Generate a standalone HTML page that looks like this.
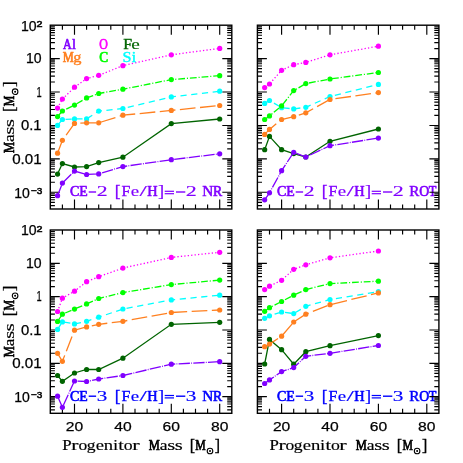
<!DOCTYPE html>
<html><head><meta charset="utf-8"><title>Yields</title>
<style>html,body{margin:0;padding:0;background:#fff;}svg{display:block;font-family:"Liberation Sans",sans-serif;}</style>
</head><body>
<svg style="will-change:transform" width="463" height="463" viewBox="0 0 463 463">
<rect width="463" height="463" fill="#ffffff"/>
<g font-family="Liberation Serif" font-size="14.3" fill="#8000ff" stroke="#8000ff" stroke-linejoin="round"><text stroke-width="0.64" transform="translate(69.92 196.4) scale(0.981 1)">C</text><text stroke-width="0.66" transform="translate(79.3 196.4) scale(0.971 1)">E</text><rect stroke="none" x="88.7" y="191.3" width="7.4" height="1.4"/><text stroke-width="0.15" transform="translate(96.84 196.4) scale(1.521 1)">2</text><text stroke-width="0.25" transform="translate(114.7 197.3) scale(1.224 1.24)">[</text><text stroke-width="0.41" transform="translate(121.55 196.4) scale(1.110 1)">F</text><text stroke-width="0.15" transform="translate(130.77 196.4) scale(1.323 1)">e</text><text stroke-width="0.15" transform="translate(139.5 196.4) scale(1.867 1)">/</text><text stroke-width="0.60" transform="translate(147.29 196.4) scale(1.000 1)">H</text><text stroke-width="0.18" transform="translate(157.94 197.3) scale(1.287 1.24)">]</text><rect stroke="none" x="164.7" y="190.7" width="9.3" height="1.2"/><rect stroke="none" x="164.7" y="193.1" width="9.3" height="1.2"/><rect stroke="none" x="176" y="191.3" width="9.3" height="1.4"/><text stroke-width="0.15" transform="translate(185.73 196.4) scale(1.538 1)">2</text><text stroke-width="0.47" transform="translate(202.26 196.4) scale(1.075 1)">N</text><text stroke-width="0.67" transform="translate(213.01 196.4) scale(0.966 1)">R</text></g>
<g font-family="Liberation Serif" font-size="14.3" fill="#8000ff" stroke="#8000ff" stroke-linejoin="round"><text stroke-width="0.64" transform="translate(276.92 196.4) scale(0.981 1)">C</text><text stroke-width="0.66" transform="translate(286.3 196.4) scale(0.971 1)">E</text><rect stroke="none" x="295.7" y="191.3" width="7.4" height="1.4"/><text stroke-width="0.15" transform="translate(303.84 196.4) scale(1.521 1)">2</text><text stroke-width="0.25" transform="translate(321.7 197.3) scale(1.224 1.24)">[</text><text stroke-width="0.41" transform="translate(328.55 196.4) scale(1.110 1)">F</text><text stroke-width="0.15" transform="translate(337.77 196.4) scale(1.323 1)">e</text><text stroke-width="0.15" transform="translate(346.5 196.4) scale(1.867 1)">/</text><text stroke-width="0.60" transform="translate(354.29 196.4) scale(1.000 1)">H</text><text stroke-width="0.18" transform="translate(364.94 197.3) scale(1.287 1.24)">]</text><rect stroke="none" x="371.7" y="190.7" width="9.3" height="1.2"/><rect stroke="none" x="371.7" y="193.1" width="9.3" height="1.2"/><rect stroke="none" x="383" y="191.3" width="9.3" height="1.4"/><text stroke-width="0.15" transform="translate(392.73 196.4) scale(1.538 1)">2</text><text stroke-width="0.48" transform="translate(409.17 196.4) scale(1.065 1)">R</text><text stroke-width="0.68" transform="translate(419.33 196.4) scale(0.962 1)">O</text><text stroke-width="0.70" transform="translate(428.87 196.4) scale(0.875 1)">T</text></g>
<g font-family="Liberation Serif" font-size="14.3" fill="#0000ff" stroke="#0000ff" stroke-linejoin="round"><text stroke-width="0.64" transform="translate(69.92 400.6) scale(0.981 1)">C</text><text stroke-width="0.66" transform="translate(79.3 400.6) scale(0.971 1)">E</text><rect stroke="none" x="88.7" y="395.5" width="7.4" height="1.4"/><text stroke-width="0.15" transform="translate(96.78 400.6) scale(1.474 1)">3</text><text stroke-width="0.25" transform="translate(114.7 401.5) scale(1.224 1.24)">[</text><text stroke-width="0.41" transform="translate(121.55 400.6) scale(1.110 1)">F</text><text stroke-width="0.15" transform="translate(130.77 400.6) scale(1.323 1)">e</text><text stroke-width="0.15" transform="translate(139.5 400.6) scale(1.867 1)">/</text><text stroke-width="0.60" transform="translate(147.29 400.6) scale(1.000 1)">H</text><text stroke-width="0.18" transform="translate(157.94 401.5) scale(1.287 1.24)">]</text><rect stroke="none" x="164.7" y="394.9" width="9.3" height="1.2"/><rect stroke="none" x="164.7" y="397.3" width="9.3" height="1.2"/><rect stroke="none" x="176" y="395.5" width="9.3" height="1.4"/><text stroke-width="0.15" transform="translate(185.66 400.6) scale(1.491 1)">3</text><text stroke-width="0.47" transform="translate(202.26 400.6) scale(1.075 1)">N</text><text stroke-width="0.67" transform="translate(213.01 400.6) scale(0.966 1)">R</text></g>
<g font-family="Liberation Serif" font-size="14.3" fill="#0000ff" stroke="#0000ff" stroke-linejoin="round"><text stroke-width="0.64" transform="translate(276.92 400.6) scale(0.981 1)">C</text><text stroke-width="0.66" transform="translate(286.3 400.6) scale(0.971 1)">E</text><rect stroke="none" x="295.7" y="395.5" width="7.4" height="1.4"/><text stroke-width="0.15" transform="translate(303.78 400.6) scale(1.474 1)">3</text><text stroke-width="0.25" transform="translate(321.7 401.5) scale(1.224 1.24)">[</text><text stroke-width="0.41" transform="translate(328.55 400.6) scale(1.110 1)">F</text><text stroke-width="0.15" transform="translate(337.77 400.6) scale(1.323 1)">e</text><text stroke-width="0.15" transform="translate(346.5 400.6) scale(1.867 1)">/</text><text stroke-width="0.60" transform="translate(354.29 400.6) scale(1.000 1)">H</text><text stroke-width="0.18" transform="translate(364.94 401.5) scale(1.287 1.24)">]</text><rect stroke="none" x="371.7" y="394.9" width="9.3" height="1.2"/><rect stroke="none" x="371.7" y="397.3" width="9.3" height="1.2"/><rect stroke="none" x="383" y="395.5" width="9.3" height="1.4"/><text stroke-width="0.15" transform="translate(392.66 400.6) scale(1.491 1)">3</text><text stroke-width="0.48" transform="translate(409.17 400.6) scale(1.065 1)">R</text><text stroke-width="0.68" transform="translate(419.33 400.6) scale(0.962 1)">O</text><text stroke-width="0.70" transform="translate(428.87 400.6) scale(0.875 1)">T</text></g>
<path d="M62.4 25.2v4.6M62.4 209v-4.6M74.5 25.2v9.5M74.5 209v-9.5M86.6 25.2v4.6M86.6 209v-4.6M98.7 25.2v4.6M98.7 209v-4.6M110.8 25.2v4.6M110.8 209v-4.6M122.9 25.2v9.5M122.9 209v-9.5M135 25.2v4.6M135 209v-4.6M147.1 25.2v4.6M147.1 209v-4.6M159.2 25.2v4.6M159.2 209v-4.6M171.3 25.2v9.5M171.3 209v-9.5M183.4 25.2v4.6M183.4 209v-4.6M195.5 25.2v4.6M195.5 209v-4.6M207.6 25.2v4.6M207.6 209v-4.6M219.7 25.2v9.5M219.7 209v-9.5M50.3 205.59h4.6M231.8 205.59h-4.6M50.3 202.35h4.6M231.8 202.35h-4.6M50.3 199.7h4.6M231.8 199.7h-4.6M50.3 197.47h4.6M231.8 197.47h-4.6M50.3 195.53h4.6M231.8 195.53h-4.6M50.3 193.82h4.6M231.8 193.82h-4.6M50.3 192.29h9.5M231.8 192.29h-9.5M50.3 182.23h4.6M231.8 182.23h-4.6M50.3 176.35h4.6M231.8 176.35h-4.6M50.3 172.17h4.6M231.8 172.17h-4.6M50.3 168.93h4.6M231.8 168.93h-4.6M50.3 166.29h4.6M231.8 166.29h-4.6M50.3 164.05h4.6M231.8 164.05h-4.6M50.3 162.11h4.6M231.8 162.11h-4.6M50.3 160.4h4.6M231.8 160.4h-4.6M50.3 158.87h9.5M231.8 158.87h-9.5M50.3 148.81h4.6M231.8 148.81h-4.6M50.3 142.93h4.6M231.8 142.93h-4.6M50.3 138.75h4.6M231.8 138.75h-4.6M50.3 135.51h4.6M231.8 135.51h-4.6M50.3 132.87h4.6M231.8 132.87h-4.6M50.3 130.63h4.6M231.8 130.63h-4.6M50.3 128.69h4.6M231.8 128.69h-4.6M50.3 126.98h4.6M231.8 126.98h-4.6M50.3 125.45h9.5M231.8 125.45h-9.5M50.3 115.39h4.6M231.8 115.39h-4.6M50.3 109.51h4.6M231.8 109.51h-4.6M50.3 105.33h4.6M231.8 105.33h-4.6M50.3 102.1h4.6M231.8 102.1h-4.6M50.3 99.45h4.6M231.8 99.45h-4.6M50.3 97.21h4.6M231.8 97.21h-4.6M50.3 95.27h4.6M231.8 95.27h-4.6M50.3 93.57h4.6M231.8 93.57h-4.6M50.3 92.04h9.5M231.8 92.04h-9.5M50.3 81.98h4.6M231.8 81.98h-4.6M50.3 76.09h4.6M231.8 76.09h-4.6M50.3 71.92h4.6M231.8 71.92h-4.6M50.3 68.68h4.6M231.8 68.68h-4.6M50.3 66.03h4.6M231.8 66.03h-4.6M50.3 63.79h4.6M231.8 63.79h-4.6M50.3 61.86h4.6M231.8 61.86h-4.6M50.3 60.15h4.6M231.8 60.15h-4.6M50.3 58.62h9.5M231.8 58.62h-9.5M50.3 48.56h4.6M231.8 48.56h-4.6M50.3 42.67h4.6M231.8 42.67h-4.6M50.3 38.5h4.6M231.8 38.5h-4.6M50.3 35.26h4.6M231.8 35.26h-4.6M50.3 32.61h4.6M231.8 32.61h-4.6M50.3 30.38h4.6M231.8 30.38h-4.6M50.3 28.44h4.6M231.8 28.44h-4.6M50.3 26.73h4.6M231.8 26.73h-4.6" stroke="#000" stroke-width="1.15" fill="none"/>
<rect x="50.3" y="25.2" width="181.5" height="183.8" fill="none" stroke="#000" stroke-width="1.4"/>
<polyline points="57.56,125.4 62.4,119.5 74.5,118.9 86.6,118.9 98.7,111.1 122.9,108.5 171.3,96.9 219.7,91.2" fill="none" stroke="#00ffff" stroke-width="1.3" stroke-dasharray="6.2 4.6"/>
<g fill="#00ffff"><circle cx="57.56" cy="125.4" r="2.6"/><circle cx="62.4" cy="119.5" r="2.6"/><circle cx="74.5" cy="118.9" r="2.6"/><circle cx="86.6" cy="118.9" r="2.6"/><circle cx="98.7" cy="111.1" r="2.6"/><circle cx="122.9" cy="108.5" r="2.6"/><circle cx="171.3" cy="96.9" r="2.6"/><circle cx="219.7" cy="91.2" r="2.6"/></g>
<polyline points="57.56,174.1 62.4,163.6 74.5,167 86.6,166.6 98.7,162.6 122.9,157.2 171.3,123.6 219.7,119" fill="none" stroke="#006400" stroke-width="1.3"/>
<g fill="#006400"><circle cx="57.56" cy="174.1" r="2.6"/><circle cx="62.4" cy="163.6" r="2.6"/><circle cx="74.5" cy="167" r="2.6"/><circle cx="86.6" cy="166.6" r="2.6"/><circle cx="98.7" cy="162.6" r="2.6"/><circle cx="122.9" cy="157.2" r="2.6"/><circle cx="171.3" cy="123.6" r="2.6"/><circle cx="219.7" cy="119" r="2.6"/></g>
<polyline points="57.56,116.6 62.4,111 74.5,105.1 86.6,97.9 98.7,93.5 122.9,89.2 171.3,79.6 219.7,75.7" fill="none" stroke="#00ff00" stroke-width="1.3" stroke-dasharray="6.8 1.9 1.1 1.9"/>
<g fill="#00ff00"><circle cx="57.56" cy="116.6" r="2.6"/><circle cx="62.4" cy="111" r="2.6"/><circle cx="74.5" cy="105.1" r="2.6"/><circle cx="86.6" cy="97.9" r="2.6"/><circle cx="98.7" cy="93.5" r="2.6"/><circle cx="122.9" cy="89.2" r="2.6"/><circle cx="171.3" cy="79.6" r="2.6"/><circle cx="219.7" cy="75.7" r="2.6"/></g>
<polyline points="57.56,108.1 62.4,99.1 74.5,87.2 86.6,78.6 98.7,75.3 122.9,65.7 171.3,54.8 219.7,48.4" fill="none" stroke="#ff00ff" stroke-width="1.3" stroke-dasharray="1.3 2.15"/>
<g fill="#ff00ff"><circle cx="57.56" cy="108.1" r="2.6"/><circle cx="62.4" cy="99.1" r="2.6"/><circle cx="74.5" cy="87.2" r="2.6"/><circle cx="86.6" cy="78.6" r="2.6"/><circle cx="98.7" cy="75.3" r="2.6"/><circle cx="122.9" cy="65.7" r="2.6"/><circle cx="171.3" cy="54.8" r="2.6"/><circle cx="219.7" cy="48.4" r="2.6"/></g>
<polyline points="57.56,153.2 62.4,140.3 74.5,123.4 86.6,122.8 98.7,122.8 122.9,115.2 171.3,110.4 219.7,105.5" fill="none" stroke="#ff8020" stroke-width="1.3" stroke-dasharray="15.7 4.5"/>
<g fill="#ff8020"><circle cx="57.56" cy="153.2" r="2.6"/><circle cx="62.4" cy="140.3" r="2.6"/><circle cx="74.5" cy="123.4" r="2.6"/><circle cx="86.6" cy="122.8" r="2.6"/><circle cx="98.7" cy="122.8" r="2.6"/><circle cx="122.9" cy="115.2" r="2.6"/><circle cx="171.3" cy="110.4" r="2.6"/><circle cx="219.7" cy="105.5" r="2.6"/></g>
<polyline points="57.56,195.7 62.4,183.1 74.5,171.1 86.6,174.5 98.7,173.9 122.9,166.6 171.3,159.7 219.7,153.8" fill="none" stroke="#8000ff" stroke-width="1.3" stroke-dasharray="11.3 1.25 0.9 1.25"/>
<g fill="#8000ff"><circle cx="57.56" cy="195.7" r="2.6"/><circle cx="62.4" cy="183.1" r="2.6"/><circle cx="74.5" cy="171.1" r="2.6"/><circle cx="86.6" cy="174.5" r="2.6"/><circle cx="98.7" cy="173.9" r="2.6"/><circle cx="122.9" cy="166.6" r="2.6"/><circle cx="171.3" cy="159.7" r="2.6"/><circle cx="219.7" cy="153.8" r="2.6"/></g>
<text x="26" y="63.32" font-family="Liberation Sans" stroke="#000" stroke-width="0.25" font-size="13.8" textLength="15.6" lengthAdjust="spacingAndGlyphs">10</text>
<text x="36.4" y="96.74" font-family="Liberation Sans" stroke="#000" stroke-width="0.25" font-size="13.8" textLength="5.2" lengthAdjust="spacingAndGlyphs">1</text>
<text x="21" y="130.15" font-family="Liberation Sans" stroke="#000" stroke-width="0.25" font-size="13.8" textLength="20.6" lengthAdjust="spacingAndGlyphs">0.1</text>
<text x="12.2" y="163.57" font-family="Liberation Sans" stroke="#000" stroke-width="0.25" font-size="13.8" textLength="29.4" lengthAdjust="spacingAndGlyphs">0.01</text>
<text x="21" y="30.5" font-family="Liberation Sans" stroke="#000" stroke-width="0.25" font-size="13.8" textLength="15.6" lengthAdjust="spacingAndGlyphs">10</text>
<text x="36.4" y="26.8" font-family="Liberation Sans" stroke="#000" stroke-width="0.25" font-size="9.4" textLength="6" lengthAdjust="spacingAndGlyphs" style="stroke-width:0.5">2</text>
<text x="14.2" y="197.59" font-family="Liberation Sans" stroke="#000" stroke-width="0.25" font-size="13.8" textLength="15.6" lengthAdjust="spacingAndGlyphs">10</text>
<text x="30.9" y="193.89" font-family="Liberation Sans" stroke="#000" stroke-width="0.25" font-size="9.4" textLength="11.4" lengthAdjust="spacingAndGlyphs" style="stroke-width:0.5">−3</text>
<g transform="translate(13.6 301.65) rotate(-90)">
<g font-family="Liberation Serif" font-size="14.3" fill="#000" stroke="#000" stroke-linejoin="round"><text stroke-width="0.70" transform="translate(148.64 0) scale(0.875 1)">M</text><text stroke-width="0.17" transform="translate(159.68 0) scale(1.224 1)">a</text><text stroke-width="0.15" transform="translate(167.15 0) scale(1.437 1)">s</text><text stroke-width="0.15" transform="translate(174.65 0) scale(1.437 1)">s</text><text stroke-width="0.29" transform="translate(189.7 0.9) scale(1.130 1.24)">[</text><text stroke-width="0.70" transform="translate(195.36 0) scale(0.824 1)">M</text><text stroke-width="0.21" transform="translate(214.59 0.9) scale(1.192 1.24)">]</text></g>
<circle cx="210" cy="1.5" r="2.8" fill="none" stroke="#000" stroke-width="1.1"/><circle cx="210" cy="1.5" r="1" fill="#000"/>
</g>
<path d="M269.5 25.2v4.6M269.5 209v-4.6M281.6 25.2v9.5M281.6 209v-9.5M293.7 25.2v4.6M293.7 209v-4.6M305.8 25.2v4.6M305.8 209v-4.6M317.9 25.2v4.6M317.9 209v-4.6M330 25.2v9.5M330 209v-9.5M342.1 25.2v4.6M342.1 209v-4.6M354.2 25.2v4.6M354.2 209v-4.6M366.3 25.2v4.6M366.3 209v-4.6M378.4 25.2v9.5M378.4 209v-9.5M390.5 25.2v4.6M390.5 209v-4.6M402.6 25.2v4.6M402.6 209v-4.6M414.7 25.2v4.6M414.7 209v-4.6M426.8 25.2v9.5M426.8 209v-9.5M257.4 205.59h4.6M438.9 205.59h-4.6M257.4 202.35h4.6M438.9 202.35h-4.6M257.4 199.7h4.6M438.9 199.7h-4.6M257.4 197.47h4.6M438.9 197.47h-4.6M257.4 195.53h4.6M438.9 195.53h-4.6M257.4 193.82h4.6M438.9 193.82h-4.6M257.4 192.29h9.5M438.9 192.29h-9.5M257.4 182.23h4.6M438.9 182.23h-4.6M257.4 176.35h4.6M438.9 176.35h-4.6M257.4 172.17h4.6M438.9 172.17h-4.6M257.4 168.93h4.6M438.9 168.93h-4.6M257.4 166.29h4.6M438.9 166.29h-4.6M257.4 164.05h4.6M438.9 164.05h-4.6M257.4 162.11h4.6M438.9 162.11h-4.6M257.4 160.4h4.6M438.9 160.4h-4.6M257.4 158.87h9.5M438.9 158.87h-9.5M257.4 148.81h4.6M438.9 148.81h-4.6M257.4 142.93h4.6M438.9 142.93h-4.6M257.4 138.75h4.6M438.9 138.75h-4.6M257.4 135.51h4.6M438.9 135.51h-4.6M257.4 132.87h4.6M438.9 132.87h-4.6M257.4 130.63h4.6M438.9 130.63h-4.6M257.4 128.69h4.6M438.9 128.69h-4.6M257.4 126.98h4.6M438.9 126.98h-4.6M257.4 125.45h9.5M438.9 125.45h-9.5M257.4 115.39h4.6M438.9 115.39h-4.6M257.4 109.51h4.6M438.9 109.51h-4.6M257.4 105.33h4.6M438.9 105.33h-4.6M257.4 102.1h4.6M438.9 102.1h-4.6M257.4 99.45h4.6M438.9 99.45h-4.6M257.4 97.21h4.6M438.9 97.21h-4.6M257.4 95.27h4.6M438.9 95.27h-4.6M257.4 93.57h4.6M438.9 93.57h-4.6M257.4 92.04h9.5M438.9 92.04h-9.5M257.4 81.98h4.6M438.9 81.98h-4.6M257.4 76.09h4.6M438.9 76.09h-4.6M257.4 71.92h4.6M438.9 71.92h-4.6M257.4 68.68h4.6M438.9 68.68h-4.6M257.4 66.03h4.6M438.9 66.03h-4.6M257.4 63.79h4.6M438.9 63.79h-4.6M257.4 61.86h4.6M438.9 61.86h-4.6M257.4 60.15h4.6M438.9 60.15h-4.6M257.4 58.62h9.5M438.9 58.62h-9.5M257.4 48.56h4.6M438.9 48.56h-4.6M257.4 42.67h4.6M438.9 42.67h-4.6M257.4 38.5h4.6M438.9 38.5h-4.6M257.4 35.26h4.6M438.9 35.26h-4.6M257.4 32.61h4.6M438.9 32.61h-4.6M257.4 30.38h4.6M438.9 30.38h-4.6M257.4 28.44h4.6M438.9 28.44h-4.6M257.4 26.73h4.6M438.9 26.73h-4.6" stroke="#000" stroke-width="1.15" fill="none"/>
<rect x="257.4" y="25.2" width="181.5" height="183.8" fill="none" stroke="#000" stroke-width="1.4"/>
<polyline points="264.66,103.4 269.5,100.5 281.6,107.7 293.7,108.9 305.8,107.3 330,96.5 378.4,84.4" fill="none" stroke="#00ffff" stroke-width="1.3" stroke-dasharray="6.2 4.6"/>
<g fill="#00ffff"><circle cx="264.66" cy="103.4" r="2.6"/><circle cx="269.5" cy="100.5" r="2.6"/><circle cx="281.6" cy="107.7" r="2.6"/><circle cx="293.7" cy="108.9" r="2.6"/><circle cx="305.8" cy="107.3" r="2.6"/><circle cx="330" cy="96.5" r="2.6"/><circle cx="378.4" cy="84.4" r="2.6"/></g>
<polyline points="264.66,149.7 269.5,136.4 281.6,149.7 293.7,153.6 305.8,157 330,141.3 378.4,129" fill="none" stroke="#006400" stroke-width="1.3"/>
<g fill="#006400"><circle cx="264.66" cy="149.7" r="2.6"/><circle cx="269.5" cy="136.4" r="2.6"/><circle cx="281.6" cy="149.7" r="2.6"/><circle cx="293.7" cy="153.6" r="2.6"/><circle cx="305.8" cy="157" r="2.6"/><circle cx="330" cy="141.3" r="2.6"/><circle cx="378.4" cy="129" r="2.6"/></g>
<polyline points="264.66,119.5 269.5,115.9 281.6,105.9 293.7,90.6 305.8,83.6 330,79 378.4,72.5" fill="none" stroke="#00ff00" stroke-width="1.3" stroke-dasharray="6.8 1.9 1.1 1.9"/>
<g fill="#00ff00"><circle cx="264.66" cy="119.5" r="2.6"/><circle cx="269.5" cy="115.9" r="2.6"/><circle cx="281.6" cy="105.9" r="2.6"/><circle cx="293.7" cy="90.6" r="2.6"/><circle cx="305.8" cy="83.6" r="2.6"/><circle cx="330" cy="79" r="2.6"/><circle cx="378.4" cy="72.5" r="2.6"/></g>
<polyline points="264.66,87.6 269.5,84 281.6,70.3 293.7,64.7 305.8,62.4 330,54.8 378.4,46.2" fill="none" stroke="#ff00ff" stroke-width="1.3" stroke-dasharray="1.3 2.15"/>
<g fill="#ff00ff"><circle cx="264.66" cy="87.6" r="2.6"/><circle cx="269.5" cy="84" r="2.6"/><circle cx="281.6" cy="70.3" r="2.6"/><circle cx="293.7" cy="64.7" r="2.6"/><circle cx="305.8" cy="62.4" r="2.6"/><circle cx="330" cy="54.8" r="2.6"/><circle cx="378.4" cy="46.2" r="2.6"/></g>
<polyline points="264.66,134.4 269.5,129.4 281.6,119.5 293.7,116.7 305.8,112.8 330,99.5 378.4,92.6" fill="none" stroke="#ff8020" stroke-width="1.3" stroke-dasharray="15.7 4.5"/>
<g fill="#ff8020"><circle cx="264.66" cy="134.4" r="2.6"/><circle cx="269.5" cy="129.4" r="2.6"/><circle cx="281.6" cy="119.5" r="2.6"/><circle cx="293.7" cy="116.7" r="2.6"/><circle cx="305.8" cy="112.8" r="2.6"/><circle cx="330" cy="99.5" r="2.6"/><circle cx="378.4" cy="92.6" r="2.6"/></g>
<polyline points="264.66,199.8 269.5,192.8 281.6,170.7 293.7,152.3 305.8,157 330,145.7 378.4,138.1" fill="none" stroke="#8000ff" stroke-width="1.3" stroke-dasharray="11.3 1.25 0.9 1.25"/>
<g fill="#8000ff"><circle cx="264.66" cy="199.8" r="2.6"/><circle cx="269.5" cy="192.8" r="2.6"/><circle cx="281.6" cy="170.7" r="2.6"/><circle cx="293.7" cy="152.3" r="2.6"/><circle cx="305.8" cy="157" r="2.6"/><circle cx="330" cy="145.7" r="2.6"/><circle cx="378.4" cy="138.1" r="2.6"/></g>
<path d="M62.4 230v4.6M62.4 413.3v-4.6M74.5 230v9.5M74.5 413.3v-9.5M86.6 230v4.6M86.6 413.3v-4.6M98.7 230v4.6M98.7 413.3v-4.6M110.8 230v4.6M110.8 413.3v-4.6M122.9 230v9.5M122.9 413.3v-9.5M135 230v4.6M135 413.3v-4.6M147.1 230v4.6M147.1 413.3v-4.6M159.2 230v4.6M159.2 413.3v-4.6M171.3 230v9.5M171.3 413.3v-9.5M183.4 230v4.6M183.4 413.3v-4.6M195.5 230v4.6M195.5 413.3v-4.6M207.6 230v4.6M207.6 413.3v-4.6M219.7 230v9.5M219.7 413.3v-9.5M50.3 409.9h4.6M231.8 409.9h-4.6M50.3 406.67h4.6M231.8 406.67h-4.6M50.3 404.03h4.6M231.8 404.03h-4.6M50.3 401.8h4.6M231.8 401.8h-4.6M50.3 399.87h4.6M231.8 399.87h-4.6M50.3 398.16h4.6M231.8 398.16h-4.6M50.3 396.64h9.5M231.8 396.64h-9.5M50.3 386.6h4.6M231.8 386.6h-4.6M50.3 380.74h4.6M231.8 380.74h-4.6M50.3 376.57h4.6M231.8 376.57h-4.6M50.3 373.34h4.6M231.8 373.34h-4.6M50.3 370.7h4.6M231.8 370.7h-4.6M50.3 368.47h4.6M231.8 368.47h-4.6M50.3 366.54h4.6M231.8 366.54h-4.6M50.3 364.83h4.6M231.8 364.83h-4.6M50.3 363.31h9.5M231.8 363.31h-9.5M50.3 353.28h4.6M231.8 353.28h-4.6M50.3 347.41h4.6M231.8 347.41h-4.6M50.3 343.24h4.6M231.8 343.24h-4.6M50.3 340.01h4.6M231.8 340.01h-4.6M50.3 337.38h4.6M231.8 337.38h-4.6M50.3 335.14h4.6M231.8 335.14h-4.6M50.3 333.21h4.6M231.8 333.21h-4.6M50.3 331.51h4.6M231.8 331.51h-4.6M50.3 329.98h9.5M231.8 329.98h-9.5M50.3 319.95h4.6M231.8 319.95h-4.6M50.3 314.08h4.6M231.8 314.08h-4.6M50.3 309.92h4.6M231.8 309.92h-4.6M50.3 306.69h4.6M231.8 306.69h-4.6M50.3 304.05h4.6M231.8 304.05h-4.6M50.3 301.82h4.6M231.8 301.82h-4.6M50.3 299.88h4.6M231.8 299.88h-4.6M50.3 298.18h4.6M231.8 298.18h-4.6M50.3 296.65h9.5M231.8 296.65h-9.5M50.3 286.62h4.6M231.8 286.62h-4.6M50.3 280.75h4.6M231.8 280.75h-4.6M50.3 276.59h4.6M231.8 276.59h-4.6M50.3 273.36h4.6M231.8 273.36h-4.6M50.3 270.72h4.6M231.8 270.72h-4.6M50.3 268.49h4.6M231.8 268.49h-4.6M50.3 266.56h4.6M231.8 266.56h-4.6M50.3 264.85h4.6M231.8 264.85h-4.6M50.3 263.33h9.5M231.8 263.33h-9.5M50.3 253.29h4.6M231.8 253.29h-4.6M50.3 247.43h4.6M231.8 247.43h-4.6M50.3 243.26h4.6M231.8 243.26h-4.6M50.3 240.03h4.6M231.8 240.03h-4.6M50.3 237.39h4.6M231.8 237.39h-4.6M50.3 235.16h4.6M231.8 235.16h-4.6M50.3 233.23h4.6M231.8 233.23h-4.6M50.3 231.52h4.6M231.8 231.52h-4.6" stroke="#000" stroke-width="1.15" fill="none"/>
<rect x="50.3" y="230" width="181.5" height="183.3" fill="none" stroke="#000" stroke-width="1.4"/>
<polyline points="57.56,329.4 62.4,321.9 74.5,323.9 86.6,321.3 98.7,317.2 122.9,309 171.3,299.9 219.7,295.2" fill="none" stroke="#00ffff" stroke-width="1.3" stroke-dasharray="6.2 4.6"/>
<g fill="#00ffff"><circle cx="57.56" cy="329.4" r="2.6"/><circle cx="62.4" cy="321.9" r="2.6"/><circle cx="74.5" cy="323.9" r="2.6"/><circle cx="86.6" cy="321.3" r="2.6"/><circle cx="98.7" cy="317.2" r="2.6"/><circle cx="122.9" cy="309" r="2.6"/><circle cx="171.3" cy="299.9" r="2.6"/><circle cx="219.7" cy="295.2" r="2.6"/></g>
<polyline points="57.56,375.5 62.4,381.3 74.5,373 86.6,369.5 98.7,369.5 122.9,358.2 171.3,324.3 219.7,322.3" fill="none" stroke="#006400" stroke-width="1.3"/>
<g fill="#006400"><circle cx="57.56" cy="375.5" r="2.6"/><circle cx="62.4" cy="381.3" r="2.6"/><circle cx="74.5" cy="373" r="2.6"/><circle cx="86.6" cy="369.5" r="2.6"/><circle cx="98.7" cy="369.5" r="2.6"/><circle cx="122.9" cy="358.2" r="2.6"/><circle cx="171.3" cy="324.3" r="2.6"/><circle cx="219.7" cy="322.3" r="2.6"/></g>
<polyline points="57.56,321.4 62.4,314.2 74.5,309.1 86.6,303.9 98.7,298.5 122.9,292.6 171.3,284.6 219.7,280.1" fill="none" stroke="#00ff00" stroke-width="1.3" stroke-dasharray="6.8 1.9 1.1 1.9"/>
<g fill="#00ff00"><circle cx="57.56" cy="321.4" r="2.6"/><circle cx="62.4" cy="314.2" r="2.6"/><circle cx="74.5" cy="309.1" r="2.6"/><circle cx="86.6" cy="303.9" r="2.6"/><circle cx="98.7" cy="298.5" r="2.6"/><circle cx="122.9" cy="292.6" r="2.6"/><circle cx="171.3" cy="284.6" r="2.6"/><circle cx="219.7" cy="280.1" r="2.6"/></g>
<polyline points="57.56,311.5 62.4,298.2 74.5,291.2 86.6,281.7 98.7,276.7 122.9,268.1 171.3,257.4 219.7,252.3" fill="none" stroke="#ff00ff" stroke-width="1.3" stroke-dasharray="1.3 2.15"/>
<g fill="#ff00ff"><circle cx="57.56" cy="311.5" r="2.6"/><circle cx="62.4" cy="298.2" r="2.6"/><circle cx="74.5" cy="291.2" r="2.6"/><circle cx="86.6" cy="281.7" r="2.6"/><circle cx="98.7" cy="276.7" r="2.6"/><circle cx="122.9" cy="268.1" r="2.6"/><circle cx="171.3" cy="257.4" r="2.6"/><circle cx="219.7" cy="252.3" r="2.6"/></g>
<polyline points="57.56,353.3 62.4,361.3 74.5,330.2 86.6,326.9 98.7,324.3 122.9,321.3 171.3,312.5 219.7,310" fill="none" stroke="#ff8020" stroke-width="1.3" stroke-dasharray="15.7 4.5"/>
<g fill="#ff8020"><circle cx="57.56" cy="353.3" r="2.6"/><circle cx="62.4" cy="361.3" r="2.6"/><circle cx="74.5" cy="330.2" r="2.6"/><circle cx="86.6" cy="326.9" r="2.6"/><circle cx="98.7" cy="324.3" r="2.6"/><circle cx="122.9" cy="321.3" r="2.6"/><circle cx="171.3" cy="312.5" r="2.6"/><circle cx="219.7" cy="310" r="2.6"/></g>
<polyline points="57.56,396.2 62.4,407.3 74.5,381 86.6,381.5 98.7,379 122.9,375.5 171.3,364.2 219.7,361.7" fill="none" stroke="#8000ff" stroke-width="1.3" stroke-dasharray="11.3 1.25 0.9 1.25"/>
<g fill="#8000ff"><circle cx="57.56" cy="396.2" r="2.6"/><circle cx="62.4" cy="407.3" r="2.6"/><circle cx="74.5" cy="381" r="2.6"/><circle cx="86.6" cy="381.5" r="2.6"/><circle cx="98.7" cy="379" r="2.6"/><circle cx="122.9" cy="375.5" r="2.6"/><circle cx="171.3" cy="364.2" r="2.6"/><circle cx="219.7" cy="361.7" r="2.6"/></g>
<text x="74.5" y="430.6" text-anchor="middle" font-family="Liberation Sans" stroke="#000" stroke-width="0.25" font-size="13.7" textLength="17.4" lengthAdjust="spacingAndGlyphs">20</text>
<text x="122.9" y="430.6" text-anchor="middle" font-family="Liberation Sans" stroke="#000" stroke-width="0.25" font-size="13.7" textLength="17.4" lengthAdjust="spacingAndGlyphs">40</text>
<text x="171.3" y="430.6" text-anchor="middle" font-family="Liberation Sans" stroke="#000" stroke-width="0.25" font-size="13.7" textLength="17.4" lengthAdjust="spacingAndGlyphs">60</text>
<text x="219.7" y="430.6" text-anchor="middle" font-family="Liberation Sans" stroke="#000" stroke-width="0.25" font-size="13.7" textLength="17.4" lengthAdjust="spacingAndGlyphs">80</text>
<g font-family="Liberation Serif" font-size="14.3" fill="#000" stroke="#000" stroke-linejoin="round"><text stroke-width="0.23" transform="translate(62.32 450.1) scale(1.177 1)">P</text><text stroke-width="0.15" transform="translate(71.37 450.1) scale(1.517 1)">r</text><text stroke-width="0.17" transform="translate(78.42 450.1) scale(1.224 1)">o</text><text stroke-width="0.17" transform="translate(86.65 450.1) scale(1.228 1)">g</text><text stroke-width="0.15" transform="translate(95.68 450.1) scale(1.304 1)">e</text><text stroke-width="0.15" transform="translate(103.87 450.1) scale(1.303 1)">n</text><text stroke-width="0.23" transform="translate(113.24 450.1) scale(1.180 1)">i</text><text stroke-width="0.15" transform="translate(118.3 450.1) scale(1.391 1)">t</text><text stroke-width="0.15" transform="translate(123.82 450.1) scale(1.240 1)">o</text><text stroke-width="0.15" transform="translate(132.15 450.1) scale(1.563 1)">r</text><text stroke-width="0.70" transform="translate(148.64 450.1) scale(0.875 1)">M</text><text stroke-width="0.17" transform="translate(159.68 450.1) scale(1.224 1)">a</text><text stroke-width="0.15" transform="translate(167.15 450.1) scale(1.437 1)">s</text><text stroke-width="0.15" transform="translate(174.65 450.1) scale(1.437 1)">s</text><text stroke-width="0.29" transform="translate(189.7 451) scale(1.130 1.24)">[</text><text stroke-width="0.70" transform="translate(195.36 450.1) scale(0.824 1)">M</text><text stroke-width="0.21" transform="translate(214.59 451) scale(1.192 1.24)">]</text></g>
<circle cx="210" cy="451" r="2.8" fill="none" stroke="#000" stroke-width="1.1"/><circle cx="210" cy="451" r="1" fill="#000"/>
<text x="26" y="268.03" font-family="Liberation Sans" stroke="#000" stroke-width="0.25" font-size="13.8" textLength="15.6" lengthAdjust="spacingAndGlyphs">10</text>
<text x="36.4" y="301.35" font-family="Liberation Sans" stroke="#000" stroke-width="0.25" font-size="13.8" textLength="5.2" lengthAdjust="spacingAndGlyphs">1</text>
<text x="21" y="334.68" font-family="Liberation Sans" stroke="#000" stroke-width="0.25" font-size="13.8" textLength="20.6" lengthAdjust="spacingAndGlyphs">0.1</text>
<text x="12.2" y="368.01" font-family="Liberation Sans" stroke="#000" stroke-width="0.25" font-size="13.8" textLength="29.4" lengthAdjust="spacingAndGlyphs">0.01</text>
<text x="21" y="235.3" font-family="Liberation Sans" stroke="#000" stroke-width="0.25" font-size="13.8" textLength="15.6" lengthAdjust="spacingAndGlyphs">10</text>
<text x="36.4" y="231.6" font-family="Liberation Sans" stroke="#000" stroke-width="0.25" font-size="9.4" textLength="6" lengthAdjust="spacingAndGlyphs" style="stroke-width:0.5">2</text>
<text x="14.2" y="401.94" font-family="Liberation Sans" stroke="#000" stroke-width="0.25" font-size="13.8" textLength="15.6" lengthAdjust="spacingAndGlyphs">10</text>
<text x="30.9" y="398.24" font-family="Liberation Sans" stroke="#000" stroke-width="0.25" font-size="9.4" textLength="11.4" lengthAdjust="spacingAndGlyphs" style="stroke-width:0.5">−3</text>
<g transform="translate(13.6 505.85) rotate(-90)">
<g font-family="Liberation Serif" font-size="14.3" fill="#000" stroke="#000" stroke-linejoin="round"><text stroke-width="0.70" transform="translate(148.64 0) scale(0.875 1)">M</text><text stroke-width="0.17" transform="translate(159.68 0) scale(1.224 1)">a</text><text stroke-width="0.15" transform="translate(167.15 0) scale(1.437 1)">s</text><text stroke-width="0.15" transform="translate(174.65 0) scale(1.437 1)">s</text><text stroke-width="0.29" transform="translate(189.7 0.9) scale(1.130 1.24)">[</text><text stroke-width="0.70" transform="translate(195.36 0) scale(0.824 1)">M</text><text stroke-width="0.21" transform="translate(214.59 0.9) scale(1.192 1.24)">]</text></g>
<circle cx="210" cy="1.5" r="2.8" fill="none" stroke="#000" stroke-width="1.1"/><circle cx="210" cy="1.5" r="1" fill="#000"/>
</g>
<path d="M269.5 230v4.6M269.5 413.3v-4.6M281.6 230v9.5M281.6 413.3v-9.5M293.7 230v4.6M293.7 413.3v-4.6M305.8 230v4.6M305.8 413.3v-4.6M317.9 230v4.6M317.9 413.3v-4.6M330 230v9.5M330 413.3v-9.5M342.1 230v4.6M342.1 413.3v-4.6M354.2 230v4.6M354.2 413.3v-4.6M366.3 230v4.6M366.3 413.3v-4.6M378.4 230v9.5M378.4 413.3v-9.5M390.5 230v4.6M390.5 413.3v-4.6M402.6 230v4.6M402.6 413.3v-4.6M414.7 230v4.6M414.7 413.3v-4.6M426.8 230v9.5M426.8 413.3v-9.5M257.4 409.9h4.6M438.9 409.9h-4.6M257.4 406.67h4.6M438.9 406.67h-4.6M257.4 404.03h4.6M438.9 404.03h-4.6M257.4 401.8h4.6M438.9 401.8h-4.6M257.4 399.87h4.6M438.9 399.87h-4.6M257.4 398.16h4.6M438.9 398.16h-4.6M257.4 396.64h9.5M438.9 396.64h-9.5M257.4 386.6h4.6M438.9 386.6h-4.6M257.4 380.74h4.6M438.9 380.74h-4.6M257.4 376.57h4.6M438.9 376.57h-4.6M257.4 373.34h4.6M438.9 373.34h-4.6M257.4 370.7h4.6M438.9 370.7h-4.6M257.4 368.47h4.6M438.9 368.47h-4.6M257.4 366.54h4.6M438.9 366.54h-4.6M257.4 364.83h4.6M438.9 364.83h-4.6M257.4 363.31h9.5M438.9 363.31h-9.5M257.4 353.28h4.6M438.9 353.28h-4.6M257.4 347.41h4.6M438.9 347.41h-4.6M257.4 343.24h4.6M438.9 343.24h-4.6M257.4 340.01h4.6M438.9 340.01h-4.6M257.4 337.38h4.6M438.9 337.38h-4.6M257.4 335.14h4.6M438.9 335.14h-4.6M257.4 333.21h4.6M438.9 333.21h-4.6M257.4 331.51h4.6M438.9 331.51h-4.6M257.4 329.98h9.5M438.9 329.98h-9.5M257.4 319.95h4.6M438.9 319.95h-4.6M257.4 314.08h4.6M438.9 314.08h-4.6M257.4 309.92h4.6M438.9 309.92h-4.6M257.4 306.69h4.6M438.9 306.69h-4.6M257.4 304.05h4.6M438.9 304.05h-4.6M257.4 301.82h4.6M438.9 301.82h-4.6M257.4 299.88h4.6M438.9 299.88h-4.6M257.4 298.18h4.6M438.9 298.18h-4.6M257.4 296.65h9.5M438.9 296.65h-9.5M257.4 286.62h4.6M438.9 286.62h-4.6M257.4 280.75h4.6M438.9 280.75h-4.6M257.4 276.59h4.6M438.9 276.59h-4.6M257.4 273.36h4.6M438.9 273.36h-4.6M257.4 270.72h4.6M438.9 270.72h-4.6M257.4 268.49h4.6M438.9 268.49h-4.6M257.4 266.56h4.6M438.9 266.56h-4.6M257.4 264.85h4.6M438.9 264.85h-4.6M257.4 263.33h9.5M438.9 263.33h-9.5M257.4 253.29h4.6M438.9 253.29h-4.6M257.4 247.43h4.6M438.9 247.43h-4.6M257.4 243.26h4.6M438.9 243.26h-4.6M257.4 240.03h4.6M438.9 240.03h-4.6M257.4 237.39h4.6M438.9 237.39h-4.6M257.4 235.16h4.6M438.9 235.16h-4.6M257.4 233.23h4.6M438.9 233.23h-4.6M257.4 231.52h4.6M438.9 231.52h-4.6" stroke="#000" stroke-width="1.15" fill="none"/>
<rect x="257.4" y="230" width="181.5" height="183.3" fill="none" stroke="#000" stroke-width="1.4"/>
<polyline points="264.66,318.3 269.5,315.8 281.6,312 293.7,313.6 305.8,306.3 330,299.5 378.4,291.6" fill="none" stroke="#00ffff" stroke-width="1.3" stroke-dasharray="6.2 4.6"/>
<g fill="#00ffff"><circle cx="264.66" cy="318.3" r="2.6"/><circle cx="269.5" cy="315.8" r="2.6"/><circle cx="281.6" cy="312" r="2.6"/><circle cx="293.7" cy="313.6" r="2.6"/><circle cx="305.8" cy="306.3" r="2.6"/><circle cx="330" cy="299.5" r="2.6"/><circle cx="378.4" cy="291.6" r="2.6"/></g>
<polyline points="264.66,364 269.5,339.4 281.6,349.7 293.7,364.2 305.8,351.7 330,345.7 378.4,335.6" fill="none" stroke="#006400" stroke-width="1.3"/>
<g fill="#006400"><circle cx="264.66" cy="364" r="2.6"/><circle cx="269.5" cy="339.4" r="2.6"/><circle cx="281.6" cy="349.7" r="2.6"/><circle cx="293.7" cy="364.2" r="2.6"/><circle cx="305.8" cy="351.7" r="2.6"/><circle cx="330" cy="345.7" r="2.6"/><circle cx="378.4" cy="335.6" r="2.6"/></g>
<polyline points="264.66,311.3 269.5,307.7 281.6,301.5 293.7,295.2 305.8,289.6 330,283.6 378.4,281.2" fill="none" stroke="#00ff00" stroke-width="1.3" stroke-dasharray="6.8 1.9 1.1 1.9"/>
<g fill="#00ff00"><circle cx="264.66" cy="311.3" r="2.6"/><circle cx="269.5" cy="307.7" r="2.6"/><circle cx="281.6" cy="301.5" r="2.6"/><circle cx="293.7" cy="295.2" r="2.6"/><circle cx="305.8" cy="289.6" r="2.6"/><circle cx="330" cy="283.6" r="2.6"/><circle cx="378.4" cy="281.2" r="2.6"/></g>
<polyline points="264.66,289.6 269.5,286.2 281.6,280.3 293.7,269.3 305.8,264.8 330,257.8 378.4,251" fill="none" stroke="#ff00ff" stroke-width="1.3" stroke-dasharray="1.3 2.15"/>
<g fill="#ff00ff"><circle cx="264.66" cy="289.6" r="2.6"/><circle cx="269.5" cy="286.2" r="2.6"/><circle cx="281.6" cy="280.3" r="2.6"/><circle cx="293.7" cy="269.3" r="2.6"/><circle cx="305.8" cy="264.8" r="2.6"/><circle cx="330" cy="257.8" r="2.6"/><circle cx="378.4" cy="251" r="2.6"/></g>
<polyline points="264.66,346.7 269.5,344.1 281.6,336.2 293.7,322 305.8,314.2 330,304.7 378.4,292.9" fill="none" stroke="#ff8020" stroke-width="1.3" stroke-dasharray="15.7 4.5"/>
<g fill="#ff8020"><circle cx="264.66" cy="346.7" r="2.6"/><circle cx="269.5" cy="344.1" r="2.6"/><circle cx="281.6" cy="336.2" r="2.6"/><circle cx="293.7" cy="322" r="2.6"/><circle cx="305.8" cy="314.2" r="2.6"/><circle cx="330" cy="304.7" r="2.6"/><circle cx="378.4" cy="292.9" r="2.6"/></g>
<polyline points="264.66,383.5 269.5,379.9 281.6,371.6 293.7,367.6 305.8,356.3 330,353.3 378.4,345.5" fill="none" stroke="#8000ff" stroke-width="1.3" stroke-dasharray="11.3 1.25 0.9 1.25"/>
<g fill="#8000ff"><circle cx="264.66" cy="383.5" r="2.6"/><circle cx="269.5" cy="379.9" r="2.6"/><circle cx="281.6" cy="371.6" r="2.6"/><circle cx="293.7" cy="367.6" r="2.6"/><circle cx="305.8" cy="356.3" r="2.6"/><circle cx="330" cy="353.3" r="2.6"/><circle cx="378.4" cy="345.5" r="2.6"/></g>
<text x="281.6" y="430.6" text-anchor="middle" font-family="Liberation Sans" stroke="#000" stroke-width="0.25" font-size="13.7" textLength="17.4" lengthAdjust="spacingAndGlyphs">20</text>
<text x="330" y="430.6" text-anchor="middle" font-family="Liberation Sans" stroke="#000" stroke-width="0.25" font-size="13.7" textLength="17.4" lengthAdjust="spacingAndGlyphs">40</text>
<text x="378.4" y="430.6" text-anchor="middle" font-family="Liberation Sans" stroke="#000" stroke-width="0.25" font-size="13.7" textLength="17.4" lengthAdjust="spacingAndGlyphs">60</text>
<text x="426.8" y="430.6" text-anchor="middle" font-family="Liberation Sans" stroke="#000" stroke-width="0.25" font-size="13.7" textLength="17.4" lengthAdjust="spacingAndGlyphs">80</text>
<g font-family="Liberation Serif" font-size="14.3" fill="#000" stroke="#000" stroke-linejoin="round"><text stroke-width="0.23" transform="translate(269.42 450.1) scale(1.177 1)">P</text><text stroke-width="0.15" transform="translate(278.47 450.1) scale(1.517 1)">r</text><text stroke-width="0.17" transform="translate(285.52 450.1) scale(1.224 1)">o</text><text stroke-width="0.17" transform="translate(293.75 450.1) scale(1.228 1)">g</text><text stroke-width="0.15" transform="translate(302.78 450.1) scale(1.304 1)">e</text><text stroke-width="0.15" transform="translate(310.97 450.1) scale(1.303 1)">n</text><text stroke-width="0.23" transform="translate(320.34 450.1) scale(1.180 1)">i</text><text stroke-width="0.15" transform="translate(325.4 450.1) scale(1.391 1)">t</text><text stroke-width="0.15" transform="translate(330.92 450.1) scale(1.240 1)">o</text><text stroke-width="0.15" transform="translate(339.25 450.1) scale(1.563 1)">r</text><text stroke-width="0.70" transform="translate(355.74 450.1) scale(0.875 1)">M</text><text stroke-width="0.17" transform="translate(366.77 450.1) scale(1.224 1)">a</text><text stroke-width="0.15" transform="translate(374.25 450.1) scale(1.437 1)">s</text><text stroke-width="0.15" transform="translate(381.75 450.1) scale(1.437 1)">s</text><text stroke-width="0.29" transform="translate(396.8 451) scale(1.130 1.24)">[</text><text stroke-width="0.70" transform="translate(402.46 450.1) scale(0.824 1)">M</text><text stroke-width="0.21" transform="translate(421.69 451) scale(1.192 1.24)">]</text></g>
<circle cx="417.1" cy="451" r="2.8" fill="none" stroke="#000" stroke-width="1.1"/><circle cx="417.1" cy="451" r="1" fill="#000"/>
<g font-family="Liberation Serif" font-size="14.3" fill="#8000ff" stroke="#8000ff" stroke-linejoin="round"><text stroke-width="0.70" transform="translate(62.98 48.5) scale(0.844 1)">A</text><text stroke-width="0.60" transform="translate(71.91 48.5) scale(1.003 1)">l</text></g>
<g font-family="Liberation Serif" font-size="14.3" fill="#ff00ff" stroke="#ff00ff" stroke-linejoin="round"><text stroke-width="0.70" transform="translate(99.21 48.5) scale(0.830 1)">O</text></g>
<g font-family="Liberation Serif" font-size="14.3" fill="#006400" stroke="#006400" stroke-linejoin="round"><text stroke-width="0.41" transform="translate(123.25 48.5) scale(1.110 1)">F</text><text stroke-width="0.15" transform="translate(131.26 48.5) scale(1.342 1)">e</text></g>
<g font-family="Liberation Serif" font-size="14.3" fill="#ff8020" stroke="#ff8020" stroke-linejoin="round"><text stroke-width="0.70" transform="translate(62.75 62.2) scale(0.866 1)">M</text><text stroke-width="0.35" transform="translate(73.3 62.2) scale(1.148 1)">g</text></g>
<g font-family="Liberation Serif" font-size="14.3" fill="#00ff00" stroke="#00ff00" stroke-linejoin="round"><text stroke-width="0.70" transform="translate(99.15 62.2) scale(0.932 1)">C</text></g>
<g font-family="Liberation Serif" font-size="14.3" fill="#00ffff" stroke="#00ffff" stroke-linejoin="round"><text stroke-width="0.38" transform="translate(122.62 62.2) scale(1.130 1)">S</text><text stroke-width="0.44" transform="translate(131.67 62.2) scale(1.091 1)">i</text></g>
</svg></body></html>
